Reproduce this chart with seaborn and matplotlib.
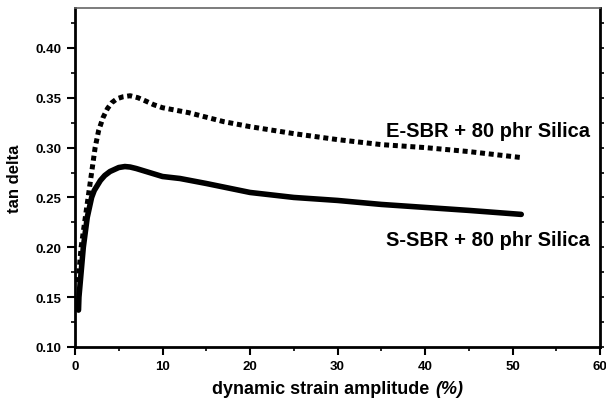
import pandas as pd
import matplotlib.pyplot as plt
import seaborn as sns
from matplotlib.ticker import MultipleLocator
from matplotlib.offsetbox import TextArea, HPacker, AnchoredOffsetbox

# strain amplitude (%) and tan delta
s_sbr_strain = [0.4, 0.45, 0.95, 1.4, 1.9, 2.2, 2.9, 3.4, 4.0, 5.0, 5.7, 6.3, 7, 8.5, 10, 12, 15,
                20, 25, 30, 35, 40, 45, 51]
s_sbr_tand = [0.137, 0.15, 0.20, 0.23, 0.25, 0.257, 0.267, 0.272, 0.276, 0.280, 0.281, 0.2805, 0.279,
              0.275, 0.271, 0.269, 0.264, 0.255, 0.250, 0.247, 0.243, 0.240, 0.237, 0.233]

e_sbr_strain = [0.35, 0.5, 0.7, 1.1, 1.5, 1.9, 2.3, 2.7, 3.2, 3.7, 4.2, 4.8, 5.5, 6.3, 7.2, 8, 9, 10,
                13, 17, 20, 25, 30, 35, 40, 45, 51]
e_sbr_tand = [0.165, 0.18, 0.20, 0.225, 0.25, 0.275, 0.30, 0.317, 0.33, 0.339, 0.345, 0.349, 0.351,
              0.352, 0.350, 0.347, 0.343, 0.34, 0.335, 0.326, 0.321, 0.314, 0.308, 0.303, 0.30,
              0.296, 0.29]

labels = ["S-SBR + 80 phr Silica", "E-SBR + 80 phr Silica"]

df_s = pd.DataFrame({"strain": s_sbr_strain, "tand": s_sbr_tand, "compound": labels[0]})
df_e = pd.DataFrame({"strain": e_sbr_strain, "tand": e_sbr_tand, "compound": labels[1]})

sns.set_style("ticks")
plt.rcParams["font.family"] = ["Liberation Sans", "DejaVu Sans"]
plt.rcParams["font.weight"] = "bold"
plt.rcParams["text.color"] = "black"
plt.rcParams["axes.labelcolor"] = "black"
plt.rcParams["xtick.color"] = "black"
plt.rcParams["ytick.color"] = "black"

fig = plt.figure(figsize=(6.06, 4.02), dpi=100)
ax = fig.add_axes([75 / 606, 1 - 348 / 402, 525 / 606, 339 / 402])

sns.lineplot(data=df_s, x="strain", y="tand", color="black", lw=4, ax=ax, sort=False)
sns.lineplot(data=df_e, x="strain", y="tand", color="black", lw=3.6, ax=ax, sort=False)
ax.lines[1].set_dashes((1, 0.75))
ax.lines[1].set_dash_capstyle("butt")

ax.text(58.8, 0.317, labels[1], ha="right", va="center", fontsize=14.5, fontweight="bold")
ax.text(58.8, 0.208, labels[0], ha="right", va="center", fontsize=14.5, fontweight="bold")

ax.set_xlim(0, 60)
ax.set_ylim(0.10, 0.44)
ax.xaxis.set_major_locator(MultipleLocator(10))
ax.xaxis.set_minor_locator(MultipleLocator(5))
ax.yaxis.set_major_locator(MultipleLocator(0.05))
ax.yaxis.set_minor_locator(MultipleLocator(0.025))
ax.yaxis.set_major_formatter(plt.FormatStrFormatter("%.2f"))

ax.tick_params(which="major", direction="out", length=6, width=1.5, labelsize=9.5, right=False)
ax.tick_params(which="minor", direction="out", length=3, width=1.2)
for lab in ax.get_xticklabels() + ax.get_yticklabels():
    lab.set_fontweight("bold")

for side in ["left", "bottom", "right"]:
    ax.spines[side].set_linewidth(2)
    ax.spines[side].set_color("black")
ax.spines["top"].set_linewidth(1.2)
ax.spines["top"].set_color("#666666")

# short ticks on the right spine
ax2 = ax.twinx()
ax2.set_ylim(ax.get_ylim())
ax2.yaxis.set_major_locator(MultipleLocator(0.025))
ax2.tick_params(direction="out", length=3, width=1.2, labelright=False)
for side in ["left", "bottom", "top", "right"]:
    ax2.spines[side].set_visible(False)

# x label with an italic "(%)" part
ax.set_xlabel("")
xl_main = TextArea("dynamic strain amplitude",
                   textprops=dict(fontsize=13, fontweight="bold", color="black"))
xl_unit = TextArea("(%)",
                   textprops=dict(fontsize=13, fontweight="bold", fontstyle="italic", color="black"))
xl_box = HPacker(children=[xl_main, xl_unit], align="baseline", pad=0, sep=4)
anch = AnchoredOffsetbox(loc="center", child=xl_box, pad=0, borderpad=0, frameon=False,
                         bbox_to_anchor=(0.5, -0.121), bbox_transform=ax.transAxes)
ax.add_artist(anch)

ax.set_ylabel("tan delta", fontsize=12, fontweight="bold", labelpad=10)

fig.savefig("out.png", dpi=100)
